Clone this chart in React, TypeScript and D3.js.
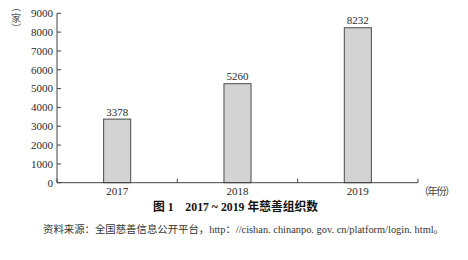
import React from "react";
import * as d3 from "d3";

const categories = ["2017", "2018", "2019"];
const values = [3378, 5260, 8232];
const yTicks = [0, 1000, 2000, 3000, 4000, 5000, 6000, 7000, 8000, 9000];
const yUnitChar = "家";
const xUnit = "（年份）";
const titleText = "图 1　2017 ~ 2019 年慈善组织数";
const sourceText = "资料来源：全国慈善信息公开平台，http：//cishan. chinanpo. gov. cn/platform/login. html。";

const W = 468;
const H = 260;
const left = 57;
const right = 418;
const top = 13.3;
const bottom = 182.7;
const serif = "'Liberation Serif', 'Noto Sans CJK SC', serif";
const cjk = "'Noto Sans CJK SC', sans-serif";
const ink = "#2a2a2a";

export default function App() {
  const x = d3.scaleBand().domain(categories).range([left, right]).paddingInner(0).paddingOuter(0);
  const y = d3.scaleLinear().domain([0, 9000]).range([bottom, top]);
  const barW = x.bandwidth() * 0.225;
  const boundaries = [left, ...categories.map((c) => (x(c) as number) + x.bandwidth())];

  return (
    <svg width={W} height={H} style={{ position: "absolute", left: 0, top: 0, background: "#fff" }}>
      {categories.map((c, i) => {
        const cx = (x(c) as number) + x.bandwidth() / 2;
        return (
          <g key={c}>
            <rect
              x={cx - barW / 2}
              y={y(values[i])}
              width={barW}
              height={bottom - y(values[i])}
              fill="#d3d3d3"
              stroke="#4a4a4a"
              strokeWidth={1}
            />
            <text x={cx} y={y(values[i]) - 3.5} textAnchor="middle" fontFamily={serif} fontSize={11} fill={ink}>
              {values[i]}
            </text>
            <text x={cx} y={194.5} textAnchor="middle" fontFamily={serif} fontSize={11} fill={ink}>
              {c}
            </text>
          </g>
        );
      })}
      <line x1={left} x2={left} y1={top} y2={bottom} stroke="#444" strokeWidth={1} />
      {yTicks.map((t) => (
        <g key={t}>
          <line x1={left} x2={left + 4} y1={y(t)} y2={y(t)} stroke="#444" strokeWidth={1} />
          <text x={53} y={y(t) + 3.8} textAnchor="end" fontFamily={serif} fontSize={11} fill={ink}>
            {t}
          </text>
        </g>
      ))}
      <line x1={left} x2={right} y1={bottom} y2={bottom} stroke="#444" strokeWidth={1} />
      {boundaries.map((b, i) => (
        <line key={i} x1={b} x2={b} y1={bottom} y2={bottom - 4} stroke="#444" strokeWidth={1} />
      ))}
      {/* y unit label, vertical: rotated parens around 家 */}
      <g fill="#555" fontFamily={cjk} fontSize={10}>
        <text transform="translate(16,7) rotate(90)" textAnchor="middle" dominantBaseline="central">（</text>
        <text x={16} y={17.5} textAnchor="middle" dominantBaseline="central">{yUnitChar}</text>
        <text transform="translate(16,28) rotate(90)" textAnchor="middle" dominantBaseline="central">）</text>
      </g>
      <text x={437} y={195} textAnchor="middle" fontFamily={cjk} fontSize={10.5} fill="#444" textLength={37} lengthAdjust="spacing">
        {xUnit}
      </text>
      <text x={153} y={210.5} fontFamily={serif} fontWeight="bold" fontSize={12} fill="#111" textLength={165} lengthAdjust="spacingAndGlyphs">
        {titleText}
      </text>
      <text x={43} y={232.5} fontFamily={serif} fontSize={10} fill="#333" textLength={401} lengthAdjust="spacingAndGlyphs">
        {sourceText}
      </text>
    </svg>
  );
}
